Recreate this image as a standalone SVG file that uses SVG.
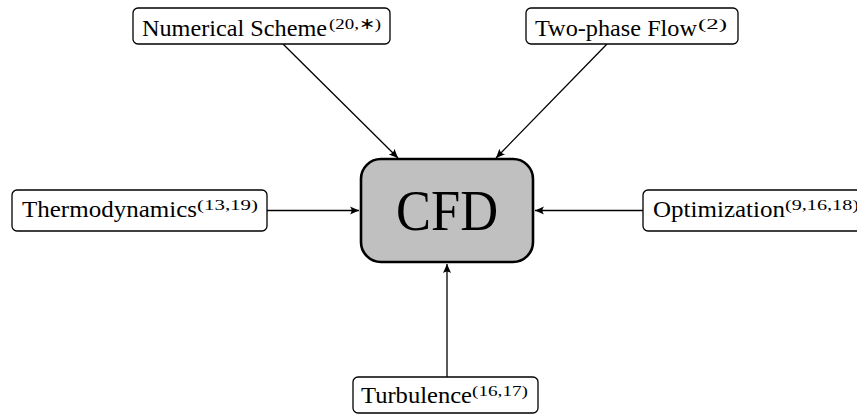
<svg xmlns="http://www.w3.org/2000/svg" width="857" height="417" viewBox="0 0 857 417">
<style>
.box{fill:#fff;stroke:#000;stroke-width:1.3}
.core{fill:#c0c0c0;stroke:#000;stroke-width:2.6}
.t{font-family:'Liberation Serif',serif;font-size:23px;fill:#000}
.s{font-family:'Liberation Serif',serif;font-size:15.5px;fill:#000}
.big{font-family:'Liberation Serif',serif;font-size:56px;fill:#000}
.c{stroke:#000;stroke-width:1.3;fill:none;marker-end:url(#ah)}
</style>
<defs>
<marker id="ah" markerUnits="userSpaceOnUse" markerWidth="12" markerHeight="12" viewBox="-10 -6 12 12" refX="0" refY="0" orient="auto">
<path d="M0,0 L-9,-4 Q-6,0 -9,4 Z" fill="#000"/>
</marker>
</defs>
<rect width="857" height="417" fill="#fff"/>
<g id="connectors">
<line class="c" x1="283" y1="44" x2="398" y2="158"/>
<line class="c" x1="607" y1="44" x2="496" y2="158"/>
<line class="c" x1="267" y1="210.5" x2="359" y2="210.5"/>
<line class="c" x1="643" y1="210.5" x2="535" y2="210.5"/>
<line class="c" x1="447" y1="377" x2="447" y2="264"/>
</g>
<g id="cfd">
<rect class="core" x="361" y="159" width="172" height="103" rx="20"/>
<text class="big" x="447" y="230" text-anchor="middle" textLength="102" lengthAdjust="spacingAndGlyphs">CFD</text>
</g>
<g id="numerical-scheme">
<rect class="box" x="133" y="8" width="257" height="36" rx="5"/>
<text class="t" x="142" y="36" textLength="185" lengthAdjust="spacingAndGlyphs">Numerical Scheme</text>
<text class="s" x="329" y="29" textLength="52" lengthAdjust="spacingAndGlyphs">(20,∗)</text>
</g>
<g id="two-phase-flow">
<rect class="box" x="526" y="8" width="212" height="36" rx="5"/>
<text class="t" x="535" y="36" textLength="162" lengthAdjust="spacingAndGlyphs">Two-phase Flow</text>
<text class="s" x="698" y="29" textLength="29" lengthAdjust="spacingAndGlyphs">(2)</text>
</g>
<g id="thermodynamics">
<rect class="box" x="12" y="190" width="255" height="41" rx="5"/>
<text class="t" x="22" y="217" textLength="175" lengthAdjust="spacingAndGlyphs">Thermodynamics</text>
<text class="s" x="197" y="210" textLength="61" lengthAdjust="spacingAndGlyphs">(13,19)</text>
</g>
<g id="optimization">
<rect class="box" x="643" y="190" width="230" height="41" rx="5"/>
<text class="t" x="653" y="217" textLength="132" lengthAdjust="spacingAndGlyphs">Optimization</text>
<text class="s" x="785" y="210" textLength="74" lengthAdjust="spacingAndGlyphs">(9,16,18)</text>
</g>
<g id="turbulence">
<rect class="box" x="353" y="377" width="185" height="36" rx="5"/>
<text class="t" x="361" y="403" textLength="111" lengthAdjust="spacingAndGlyphs">Turbulence</text>
<text class="s" x="472" y="396" textLength="56" lengthAdjust="spacingAndGlyphs">(16,17)</text>
</g>
</svg>
